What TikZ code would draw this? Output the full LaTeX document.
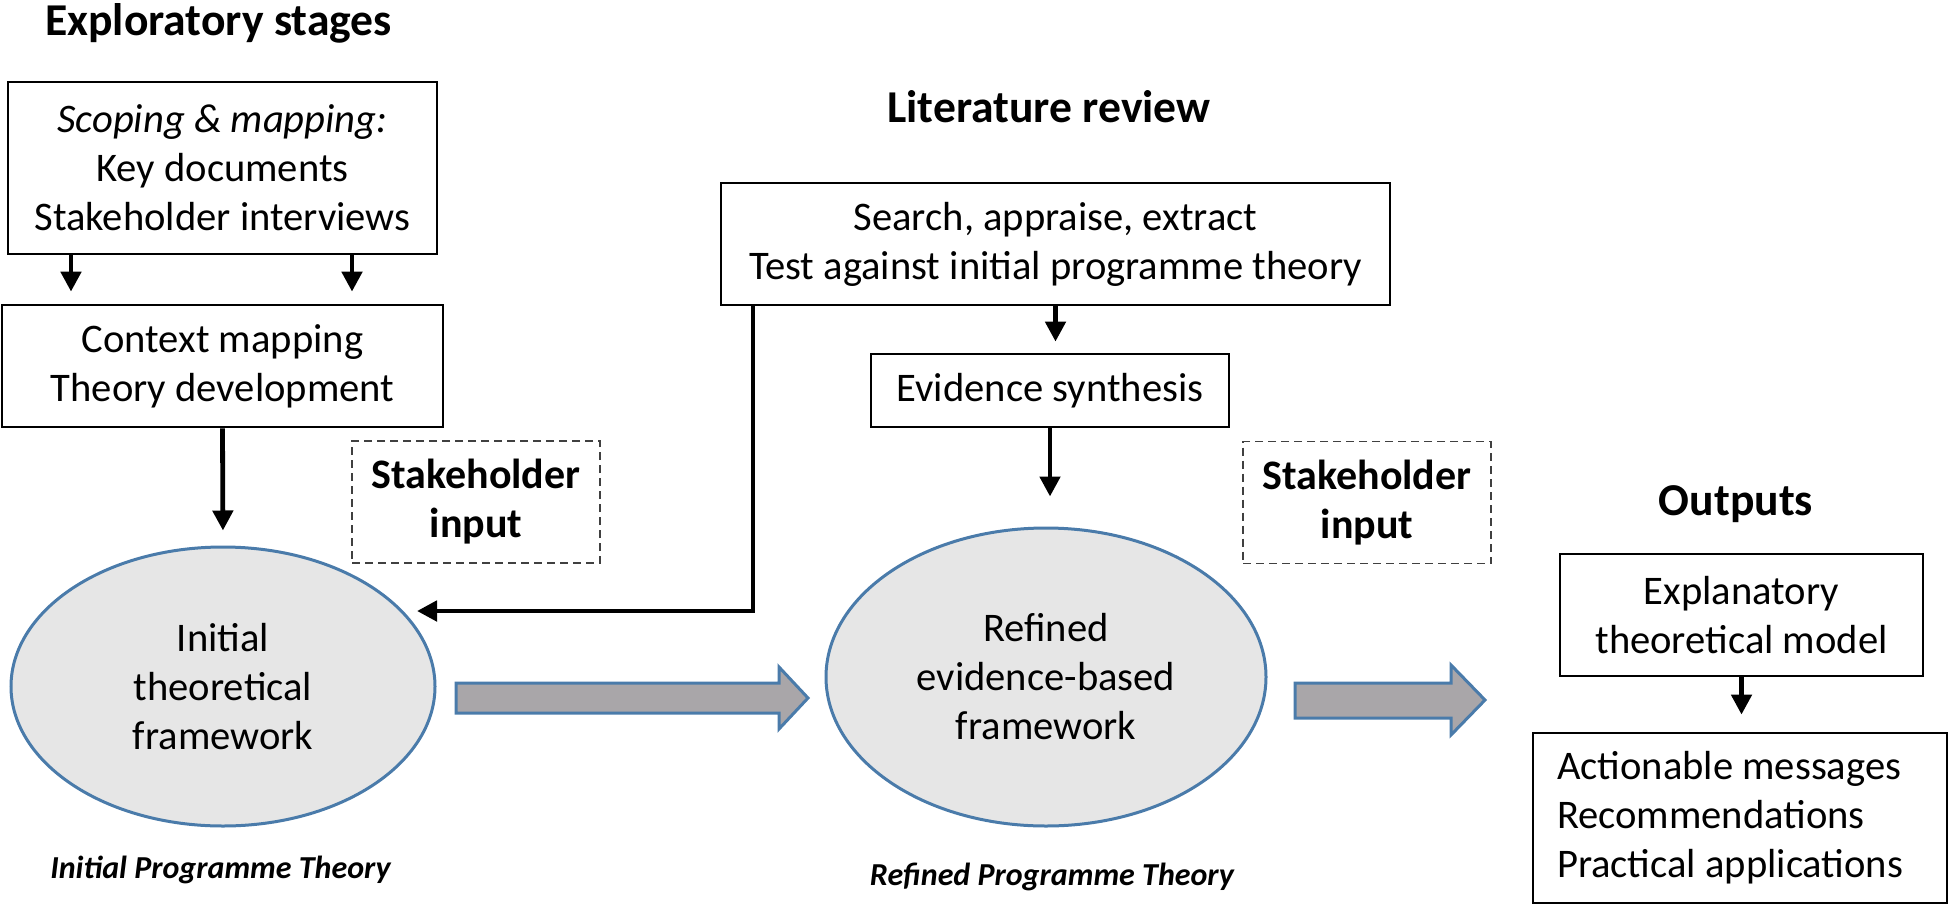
\documentclass[tikz,border=0pt]{standalone}
\usepackage{fontspec}
\setmainfont{Carlito}
\usetikzlibrary{arrows.meta,shapes.geometric}
\definecolor{eblue}{HTML}{4A7BAA}
\definecolor{efill}{HTML}{E6E6E6}
\definecolor{afill}{HTML}{A9A6A9}
\definecolor{dgray}{HTML}{404040}
\begin{document}
\begin{tikzpicture}[x=0.5pt,y=-0.5pt,
  txt/.style={font=\fontsize{20.3}{24.5}\selectfont, align=center},
  box/.style={txt, draw, line width=1.4pt, inner sep=0pt},
  dbox/.style={draw=dgray, line width=0.9pt, dash pattern=on 4pt off 2.5pt, font=\fontsize{21}{24.5}\selectfont\bfseries, align=center, inner sep=0pt},
  ell/.style={ellipse, draw=eblue, fill=efill, line width=1.5pt, txt, inner sep=0pt},
  title/.style={font=\fontsize{22.8}{27}\selectfont\bfseries, anchor=base},
  ptheory/.style={font=\fontsize{16}{19}\selectfont\bfseries\itshape, anchor=base},
  arr/.style={line width=2.4pt, -{Triangle[length=10pt,width=10pt]}},
  big/.style={fill=afill, draw=eblue, line width=1.5pt, line join=miter}
]
\useasboundingbox (0,0) rectangle (1948,905);

\node[title] (t1) at (218.5,35) {Exploratory stages};
\node[title] (t2) at (1049,122) {Literature review};
\node[title] (t3) at (1736,515) {Outputs};

\node[box, minimum width=214.5pt, minimum height=86pt] (b1) at (222.5,168) {\textit{Scoping \& mapping:}\\Key documents\\Stakeholder interviews};
\node[box, minimum width=220.5pt, minimum height=61pt] (b2) at (222.5,366) {Context mapping\\Theory development};
\node[box, minimum width=334.5pt, minimum height=61pt] (lit) at (1055.5,244) {Search, appraise, extract\\Test against initial programme theory};
\node[box, minimum width=179pt, minimum height=36.5pt] (ev) at (1050,390.5) {Evidence synthesis};
\node[dbox, minimum width=124pt, minimum height=61pt] (s1) at (476,502) {Stakeholder\\input};
\node[dbox, minimum width=124pt, minimum height=61pt] (s2) at (1367,502.5) {Stakeholder\\input};
\node[ell, minimum width=212pt, minimum height=139.5pt] (e1) at (223,686.5) {Initial\\theoretical\\framework};
\node[ell, minimum width=220pt, minimum height=149pt] (e2) at (1046,677) {Refined\\evidence-based\\framework};
\node[box, minimum width=181.5pt, minimum height=61pt] (o1) at (1741.5,615) {Explanatory\\theoretical model};
\node[box, text width=183pt, align=flush left, inner xsep=12pt, minimum height=85pt] (o2) at (1740,818) {Actionable messages\\Recommendations\\Practical applications};

\node[ptheory] (p1) at (220.5,878) {Initial Programme Theory};
\node[ptheory] (p2) at (1052,885) {Refined Programme Theory};

\coordinate (xa) at (71,0);
\coordinate (xb) at (352,0);
\draw[arr, shorten >=6pt] (b1.south -| xa) -- (b2.north -| xa);
\draw[arr, shorten >=6pt] (b1.south -| xb) -- (b2.north -| xb);
\draw[arr, shorten >=7.5pt] (b2.south) -- (e1.north);
\coordinate (corner) at (753,611);
\coordinate (tipa) at (417,611);
\draw[arr, line join=miter] (lit.south -| corner) -- (corner) -- (tipa);
\draw[arr, shorten >=5.5pt] (lit.south) -- (lit.south |- ev.north);
\draw[arr, shorten >=15pt] (ev.south) -- (ev.south |- e2.north);
\draw[arr, shorten >=8.5pt] (o1.south) -- (o1.south |- o2.north);

\draw[big] (456,683) -- (779,683) -- (779,667) -- (808,698) -- (779,729) -- (779,713) -- (456,713) -- cycle;
\draw[big] (1295,683) -- (1451,683) -- (1451,665) -- (1485,700) -- (1451,735) -- (1451,718) -- (1295,718) -- cycle;
\end{tikzpicture}
\end{document}
